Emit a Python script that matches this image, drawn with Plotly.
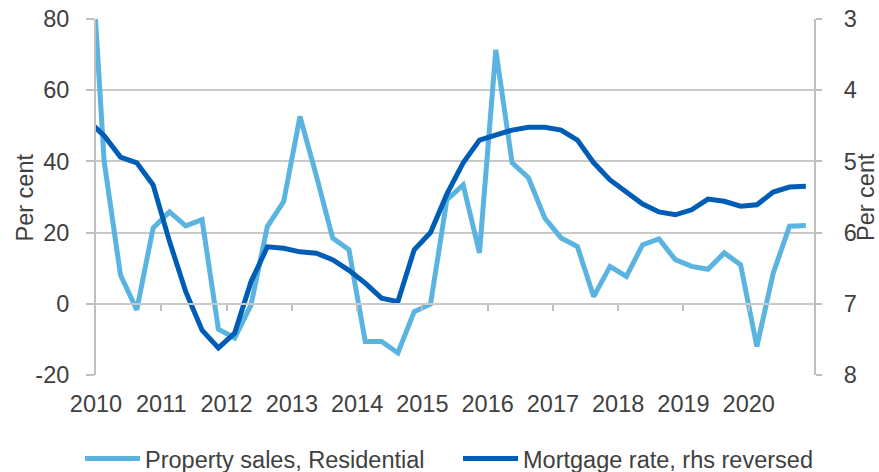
import plotly.graph_objects as go

# Quarterly observations (first one sits just before the visible axis range)
quarters = ["2009Q4"] + [f"{y}Q{q}" for y in range(2010, 2021) for q in range(1, 5)]

property_sales = [115,
    40, 8.1, -1.7, 21.3, 25.8, 21.9, 23.6, -7.1, -9.6, -0.3,
    21.7, 28.7, 52.6, 36, 18.5, 15.2, -10.6, -10.6, -13.8, -2.2,
    -0.1, 29.2, 33.4, 14.3, 71.3, 39.6, 35.4, 24.1, 18.5, 16.1,
    2.0, 10.5, 7.7, 16.6, 18.2, 12.4, 10.5, 9.7, 14.3, 11.0,
    -12.0, 8.6, 21.8, 22.0]

mortgage_rate = [4.42,
    4.64, 4.94, 5.02, 5.33, 6.12, 6.83, 7.37, 7.62, 7.41, 6.69,
    6.20, 6.22, 6.27, 6.29, 6.38, 6.53, 6.71, 6.92, 6.97, 6.24,
    6.00, 5.46, 5.02, 4.70, 4.63, 4.56, 4.52, 4.52, 4.56, 4.70,
    5.02, 5.26, 5.43, 5.60, 5.71, 5.75, 5.68, 5.53, 5.56, 5.63,
    5.61, 5.43, 5.36, 5.35]

year_ticks = list(range(2010, 2021))
year_labels = [str(y) for y in year_ticks]
left_ticks = [-20, 0, 20, 40, 60, 80]
left_labels = ["-20", "0", "20", "40", "60", "80"]
right_ticks = [3, 4, 5, 6, 7, 8]
axis_title = "Per cent"

# mid-quarter position on a decimal-year axis
xpos = [int(s[:4]) + (int(s[-1]) - 0.5) / 4 for s in quarters]

LIGHT = "#5AB4DF"
DARK = "#005DB5"
GRID = "#C9C9C9"
AXIS = "#BFBFBF"
TEXT = "#404040"
FONT = "Liberation Sans, Arial, sans-serif"
FS = 23.5

fig = go.Figure()
fig.add_trace(go.Scatter(x=xpos, y=property_sales, mode="lines",
                         name="Property sales, Residential", legend="legend",
                         line=dict(color=LIGHT, width=5)))
fig.add_trace(go.Scatter(x=xpos, y=mortgage_rate, mode="lines",
                         name="Mortgage rate, rhs reversed", yaxis="y2", legend="legend2",
                         line=dict(color=DARK, width=5)))
# invisible helper trace so the zero-line tick axis is rendered
fig.add_trace(go.Scatter(x=[year_ticks[0]], y=[None], xaxis="x2", yaxis="y",
                         showlegend=False, hoverinfo="skip", mode="lines"))

legend_style = dict(orientation="h", y=-0.235, yanchor="middle", xanchor="left",
                    font=dict(family=FONT, size=FS, color=TEXT), itemwidth=55,
                    bgcolor="rgba(0,0,0,0)")

fig.update_layout(
    width=879, height=472,
    margin=dict(l=96, r=65, t=19, b=97, autoexpand=False),
    paper_bgcolor="white", plot_bgcolor="white",
    font=dict(family=FONT, size=FS, color=TEXT),
    showlegend=True,
    legend=dict(x=-0.0223, **legend_style),
    legend2=dict(x=0.5042, **legend_style),
    xaxis=dict(range=[2010, 2021], tickvals=year_ticks, ticktext=year_labels,
               showgrid=False, zeroline=False, showline=False, ticks="",
               automargin=False,
               ticklabelstandoff=12, tickfont=dict(size=FS, color=TEXT)),
    xaxis2=dict(range=[2010, 2021], overlaying="x", anchor="free", position=0.2,
                tickvals=year_ticks[1:], showticklabels=False, ticks="outside",
                ticklen=6, tickwidth=2, tickcolor=AXIS, showline=True,
                automargin=False,
                linecolor=GRID, linewidth=1.5, showgrid=False, zeroline=False),
    yaxis=dict(range=[-20, 80], tickvals=left_ticks, ticktext=left_labels,
               showgrid=True, gridcolor=GRID, automargin=False,
               gridwidth=1.5, zeroline=False, showline=True, linecolor=AXIS,
               linewidth=2, ticks="outside", ticklen=8, tickwidth=1.5, tickcolor=AXIS,
               ticklabelstandoff=12,
               tickfont=dict(size=FS, color=TEXT)),
    yaxis2=dict(range=[8, 3], tickvals=right_ticks, overlaying="y", side="right",
                showgrid=False, zeroline=False, showline=True, linecolor=AXIS,
                automargin=False,
                linewidth=2, ticks="outside", ticklen=6, tickwidth=1.5, tickcolor=AXIS,
                ticklabelstandoff=17,
                tickfont=dict(size=FS, color=TEXT)),
    annotations=[
        dict(text=axis_title, textangle=-90, xref="paper", yref="paper",
             x=-0.0982, y=0.5, xanchor="center", yanchor="middle", showarrow=False,
             font=dict(family=FONT, size=FS, color=TEXT)),
        dict(text=axis_title, textangle=-90, xref="paper", yref="paper",
             x=1.0724, y=0.5, xanchor="center", yanchor="middle", showarrow=False,
             font=dict(family=FONT, size=FS, color=TEXT)),
    ],
)

fig.write_html("out.html", config={"displayModeBar": False},
               post_script="document.body.style.margin='0';document.body.style.overflow='hidden';")
